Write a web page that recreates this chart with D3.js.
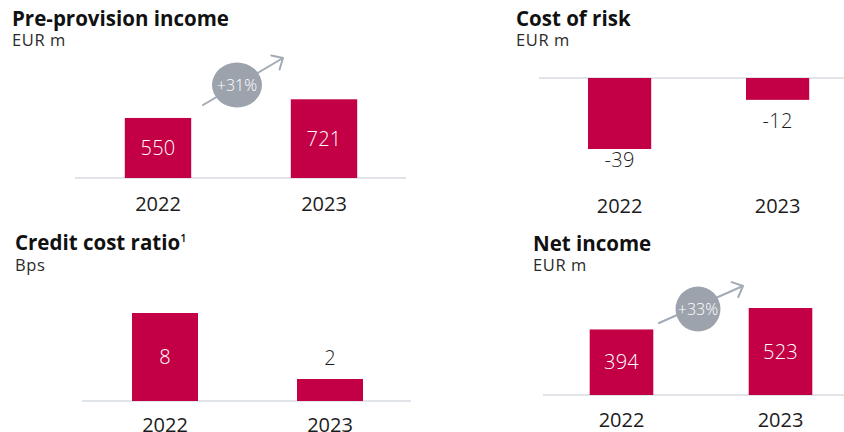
<!DOCTYPE html>
<html>
<head>
<meta charset="utf-8">
<script src="https://cdn.jsdelivr.net/npm/d3@7"></script>
<style>
  html, body { margin: 0; padding: 0; background: #fff; }
  svg { display: block; font-family: "Open Sans", "Noto Sans", sans-serif; }
</style>
</head>
<body>
<svg id="chart" width="844" height="432"></svg>
<script>
// Years shared by every panel
const years = ["2022", "2023"];

// Values per KPI
const preProvisionIncome = [550, 721];
const costOfRisk = [-39, -12];
const creditCostRatio = [8, 2];
const netIncome = [394, 523];

// Titles, units and growth annotations
const titles = ["Pre-provision income", "Cost of risk", "Credit cost ratio", "Net income"];
const units = ["EUR m", "EUR m", "Bps", "EUR m"];
const growthLabels = ["+31%", null, null, "+33%"];

const BAR = "#c30045";
const AXIS = "#e1e5ea";
const BUBBLE = "#9ca3ad";
const ARROW = "#a3abb7";
const INK = "#1c1c1c";

// Layout for each panel (positions and scale ranges)
const panels = [
  { values: preProvisionIncome, title: titles[0], unit: units[0], growth: growthLabels[0],
    tx: 12, ty: 26, sy: 46,
    xRange: [75, 407], axisX: [75, 406], base: 178, top: 99.3,
    labelMode: "inside", yearY: 211,
    bubble: { cx: 237, cy: 85, rx: 25, ry: 22.5, from: [203, 105], to: [283, 58] } },
  { values: costOfRisk, title: titles[1], unit: units[1], growth: growthLabels[1],
    tx: 516, ty: 26, sy: 46,
    xRange: [540.6, 856.6], axisX: [539, 844], base: 78, top: 149,
    labelMode: "below", belowOffsets: [18, 28], yearY: 213 },
  { values: creditCostRatio, title: titles[2], unit: units[2], growth: growthLabels[2], sup: "1",
    tx: 15, ty: 250, sy: 271,
    xRange: [82.5, 412.5], axisX: [82, 411], base: 401, top: 313,
    labelMode: "fit", yearY: 432 },
  { values: netIncome, title: titles[3], unit: units[3], growth: growthLabels[3],
    tx: 533, ty: 251, sy: 271,
    xRange: [542, 860], axisX: [543, 844], base: 395, top: 308,
    labelMode: "inside", yearY: 427,
    bubble: { cx: 698, cy: 309, rx: 22.5, ry: 22.5, from: [659, 323], to: [743, 286] } }
];

const svg = d3.select("#chart");

panels.forEach(p => {
  const g = svg.append("g");
  const data = years.map((y, i) => ({ year: y, value: p.values[i], i }));

  const x = d3.scaleBand().domain(years).range(p.xRange).paddingInner(0.6).paddingOuter(0.3);
  const ext = d3.extent(p.values.concat([0]));
  const dom = ext[0] < 0 ? [0, ext[0]] : [0, ext[1]];
  const y = d3.scaleLinear().domain(dom).range([p.base, p.top]);

  // Title and unit
  const t = g.append("text").attr("x", p.tx).attr("y", p.ty)
    .attr("font-size", 20.5).attr("font-weight", 700).attr("fill", "#111")
    .text(p.title);
  if (p.sup) {
    t.append("tspan").attr("dy", -8).attr("font-size", 11).attr("font-weight", 600).text(p.sup);
  }
  g.append("text").attr("x", p.tx).attr("y", p.sy)
    .attr("font-size", 16.5).attr("letter-spacing", 0.6).attr("fill", "#2a2a2a").text(p.unit);

  // Zero line
  g.append("line")
    .attr("x1", p.axisX[0]).attr("x2", p.axisX[1])
    .attr("y1", y(0)).attr("y2", y(0))
    .attr("stroke", AXIS).attr("stroke-width", 2);

  // Bars
  g.selectAll("rect.bar").data(data).join("rect")
    .attr("class", "bar")
    .attr("x", d => x(d.year))
    .attr("width", x.bandwidth())
    .attr("y", d => Math.min(y(d.value), y(0)))
    .attr("height", d => Math.abs(y(d.value) - y(0)))
    .attr("fill", BAR);

  // Value labels
  g.selectAll("text.val").data(data).join("text")
    .attr("class", "val")
    .attr("x", d => x(d.year) + x.bandwidth() / 2)
    .attr("text-anchor", "middle")
    .attr("font-size", 20)
    .attr("font-weight", 300)
    .attr("letter-spacing", 0.3)
    .each(function(d) {
      const el = d3.select(this);
      const h = Math.abs(y(d.value) - y(0));
      if (p.labelMode === "below") {
        el.attr("y", y(d.value) + p.belowOffsets[d.i]).attr("fill", INK);
      } else if (p.labelMode === "fit" && h < 30) {
        el.attr("y", y(d.value) - 14).attr("fill", INK);
      } else {
        el.attr("y", (y(d.value) + y(0)) / 2 + 7).attr("fill", "#fff");
      }
    })
    .text(d => d.value);

  // Category labels
  g.selectAll("text.year").data(data).join("text")
    .attr("class", "year")
    .attr("x", d => x(d.year) + x.bandwidth() / 2)
    .attr("y", p.yearY)
    .attr("text-anchor", "middle")
    .attr("font-size", 20)
    .attr("fill", INK)
    .text(d => d.year);

  // Growth arrow with bubble
  if (p.growth && p.bubble) {
    const b = p.bubble;
    const ang = Math.atan2(b.to[1] - b.from[1], b.to[0] - b.from[0]);
    const L = 12, spread = Math.PI / 4.2;
    const w1 = [b.to[0] - L * Math.cos(ang - spread), b.to[1] - L * Math.sin(ang - spread)];
    const w2 = [b.to[0] - L * Math.cos(ang + spread), b.to[1] - L * Math.sin(ang + spread)];
    g.append("path")
      .attr("d", `M${b.from[0]},${b.from[1]}L${b.to[0]},${b.to[1]}M${w1[0]},${w1[1]}L${b.to[0]},${b.to[1]}L${w2[0]},${w2[1]}`)
      .attr("fill", "none").attr("stroke", ARROW).attr("stroke-width", 2)
      .attr("stroke-linecap", "round").attr("stroke-linejoin", "round");
    g.append("ellipse")
      .attr("cx", b.cx).attr("cy", b.cy).attr("rx", b.rx).attr("ry", b.ry)
      .attr("fill", BUBBLE);
    g.append("text")
      .attr("x", b.cx).attr("y", b.cy + 5.5)
      .attr("text-anchor", "middle")
      .attr("font-size", 16).attr("font-weight", 300)
      .attr("fill", "#fff")
      .text(p.growth);
  }
});
</script>
</body>
</html>
